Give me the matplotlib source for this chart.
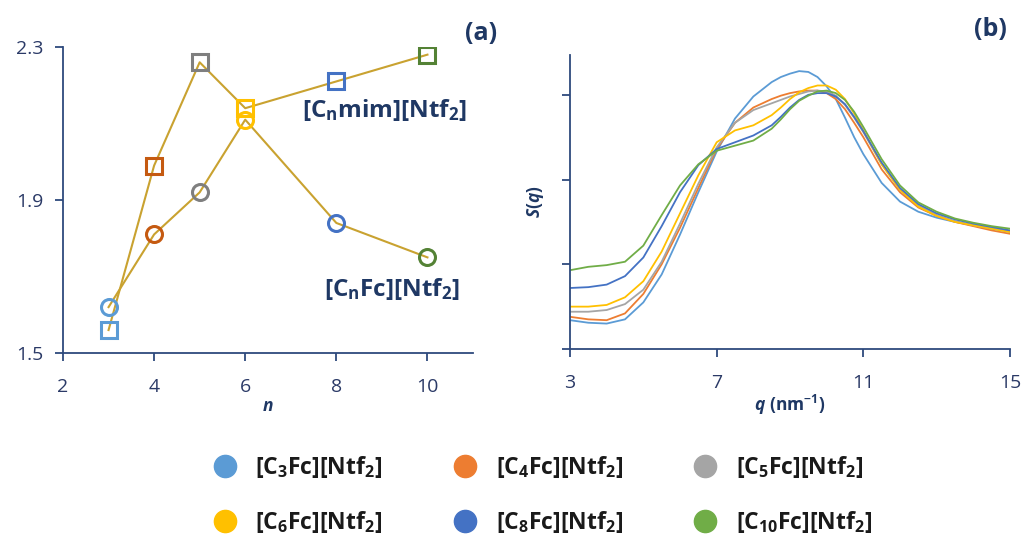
import matplotlib
matplotlib.use("Agg")
import matplotlib.pyplot as plt
from matplotlib.lines import Line2D

plt.rcParams['font.family'] = ['Open Sans', 'DejaVu Sans']
plt.rcParams['mathtext.fontset'] = 'custom'
plt.rcParams['mathtext.rm'] = 'Open Sans'
plt.rcParams['mathtext.bf'] = 'Open Sans:bold'
plt.rcParams['mathtext.it'] = 'Open Sans:italic'
plt.rcParams['mathtext.bfit'] = 'Open Sans:italic:bold'

# ---- panel (a) data ----
n_values = [3, 4, 5, 6, 8, 10]
mim_values = [1.56, 1.99, 2.26, 2.14, 2.21, 2.28]
fc_values = [1.62, 1.81, 1.92, 2.11, 1.84, 1.75]
marker_colors_a = ['#5B9BD5', '#C55A11', '#7F7F7F', '#FFC000', '#4472C4', '#548235']

# ---- panel (b) data ----
q = [3, 3.5, 4, 4.5, 5, 5.5, 6, 6.5, 7, 7.5, 8, 8.5, 8.75, 9, 9.25, 9.5, 9.75,
     10, 10.25, 10.5, 10.75, 11, 11.5, 12, 12.5, 13, 13.5, 14, 14.5, 15]
s_c3 = [0.34, 0.31, 0.30, 0.35, 0.55, 0.88, 1.35, 1.85, 2.33, 2.72, 2.98, 3.15, 3.21,
        3.25, 3.28, 3.27, 3.21, 3.10, 2.95, 2.73, 2.50, 2.30, 1.96, 1.74, 1.62, 1.55,
        1.50, 1.46, 1.42, 1.39]
s_c4 = [0.38, 0.35, 0.34, 0.42, 0.65, 1.00, 1.43, 1.90, 2.36, 2.67, 2.85, 2.95, 2.99,
        3.02, 3.04, 3.05, 3.05, 3.02, 2.95, 2.83, 2.67, 2.50, 2.12, 1.85, 1.67, 1.57,
        1.50, 1.45, 1.40, 1.36]
s_c5 = [0.44, 0.44, 0.46, 0.53, 0.70, 1.03, 1.48, 1.95, 2.38, 2.67, 2.82, 2.90, 2.94,
        2.98, 3.01, 3.04, 3.05, 3.04, 2.99, 2.88, 2.73, 2.56, 2.18, 1.88, 1.69, 1.58,
        1.51, 1.46, 1.42, 1.38]
s_c6 = [0.50, 0.50, 0.52, 0.61, 0.80, 1.15, 1.60, 2.05, 2.44, 2.58, 2.64, 2.76, 2.85,
        2.95, 3.03, 3.08, 3.11, 3.11, 3.06, 2.95, 2.78, 2.58, 2.18, 1.88, 1.68, 1.57,
        1.50, 1.46, 1.42, 1.38]
s_c8 = [0.72, 0.73, 0.76, 0.86, 1.08, 1.45, 1.85, 2.17, 2.36, 2.44, 2.52, 2.64, 2.74,
        2.85, 2.94, 3.00, 3.02, 3.02, 2.98, 2.89, 2.74, 2.57, 2.20, 1.90, 1.71, 1.60,
        1.53, 1.48, 1.44, 1.40]
s_c10 = [0.93, 0.97, 0.99, 1.03, 1.22, 1.58, 1.93, 2.18, 2.34, 2.40, 2.46, 2.60, 2.71,
         2.83, 2.93, 2.99, 3.04, 3.05, 3.02, 2.94, 2.80, 2.62, 2.24, 1.93, 1.73, 1.62,
         1.54, 1.49, 1.45, 1.42]
series_b = [s_c3, s_c4, s_c5, s_c6, s_c8, s_c10]
labels_b = [r'$\mathbf{[C_3Fc][Ntf_2]}$', r'$\mathbf{[C_4Fc][Ntf_2]}$',
            r'$\mathbf{[C_5Fc][Ntf_2]}$', r'$\mathbf{[C_6Fc][Ntf_2]}$',
            r'$\mathbf{[C_8Fc][Ntf_2]}$', r'$\mathbf{[C_{10}Fc][Ntf_2]}$']
colors_b = ['#5B9BD5', '#ED7D31', '#A5A5A5', '#FFC000', '#4472C4', '#70AD47']

navy = '#1F3864'
spine_c = '#2E4A7D'
tick_c = '#2B3A67'
line_c = '#C9A230'

fig = plt.figure(figsize=(10.22, 5.39), dpi=100)

# ---------- panel (a) ----------
axa = fig.add_axes([63/1022, 1-353/539, (473-63)/1022, (353-47)/539])
axa.plot(n_values, mim_values, color=line_c, lw=1.5, zorder=2)
axa.plot(n_values, fc_values, color=line_c, lw=1.5, zorder=2)
for x, y, c in zip(n_values, mim_values, marker_colors_a):
    axa.plot([x], [y], marker='s', ms=11, mfc='none', mec=c, mew=2.2, zorder=3)
for x, y, c in zip(n_values, fc_values, marker_colors_a):
    axa.plot([x], [y], marker='o', ms=11.5, mfc='none', mec=c, mew=2.2, zorder=3)
axa.set_xlim(2, 11)
axa.set_ylim(1.5, 2.3)
axa.set_xticks([2, 4, 6, 8, 10])
axa.set_yticks([1.5, 1.9, 2.3])
axa.set_yticklabels(['1.5', '1.9', '2.3'])
for s in ['top', 'right']:
    axa.spines[s].set_visible(False)
for s in ['left', 'bottom']:
    axa.spines[s].set_color(spine_c)
    axa.spines[s].set_linewidth(1.3)
axa.tick_params(direction='out', length=6, width=1.3, color=spine_c,
                labelcolor=tick_c, labelsize=14)
axa.tick_params(axis='x', pad=12)
axa.tick_params(axis='y', pad=8)
axa.set_xlabel('n', fontsize=12.5, fontweight='bold', fontstyle='italic',
               color=navy, labelpad=1)
axa.text(10.87, 2.135, r'$\mathbf{[C_nmim][Ntf_2]}$', fontsize=17.5,
         color=navy, ha='right', va='center')
axa.text(10.71, 1.668, r'$\mathbf{[C_nFc][Ntf_2]}$', fontsize=17.5,
         color=navy, ha='right', va='center')
fig.text(481/1022, 1-33/539, '(a)', fontsize=18, fontweight='bold', color=navy,
         ha='center', va='center')

# ---------- panel (b) ----------
axb = fig.add_axes([570/1022, 1-349/539, (1010-570)/1022, (349-55)/539])
handles = []
for ys, c, lab in zip(series_b, colors_b, labels_b):
    axb.plot(q, ys, color=c, lw=1.3)
    handles.append(Line2D([], [], marker='o', ls='none', ms=16, mfc=c, mec=c,
                          label=lab))
axb.set_xlim(3, 15)
axb.set_ylim(0, 3.47)
axb.set_xticks([3, 7, 11, 15])
axb.set_yticks([0, 1, 2, 3])
axb.set_yticklabels([])
for s in ['top', 'right']:
    axb.spines[s].set_visible(False)
for s in ['left', 'bottom']:
    axb.spines[s].set_color(spine_c)
    axb.spines[s].set_linewidth(1.3)
axb.tick_params(direction='out', length=6, width=1.3, color=spine_c,
                labelcolor=tick_c, labelsize=14)
axb.tick_params(axis='x', pad=12)
axb.set_xlabel(r'$\mathbfit{q}\ \mathbf{(nm^{-1})}$', fontsize=12.5, color=navy,
               labelpad=1)
axb.set_ylabel(r'$\mathbfit{S}\mathbf{(}\mathbfit{q}\mathbf{)}$', fontsize=12.5,
               color=navy, labelpad=8)
fig.text(990/1022, 1-30/539, '(b)', fontsize=18, fontweight='bold', color=navy,
         ha='center', va='center')

# ---------- legend ----------
order = [0, 3, 1, 4, 2, 5]
leg = fig.legend([handles[i] for i in order], [labels_b[i] for i in order],
                 loc='center', bbox_to_anchor=(0.53, 0.0826), ncol=3, frameon=False,
                 fontsize=16.5, columnspacing=3.0,
                 handletextpad=0.75, labelspacing=1.27, handlelength=1.2,
                 labelcolor='#1A1A1A')

fig.savefig('out.png', dpi=100)
